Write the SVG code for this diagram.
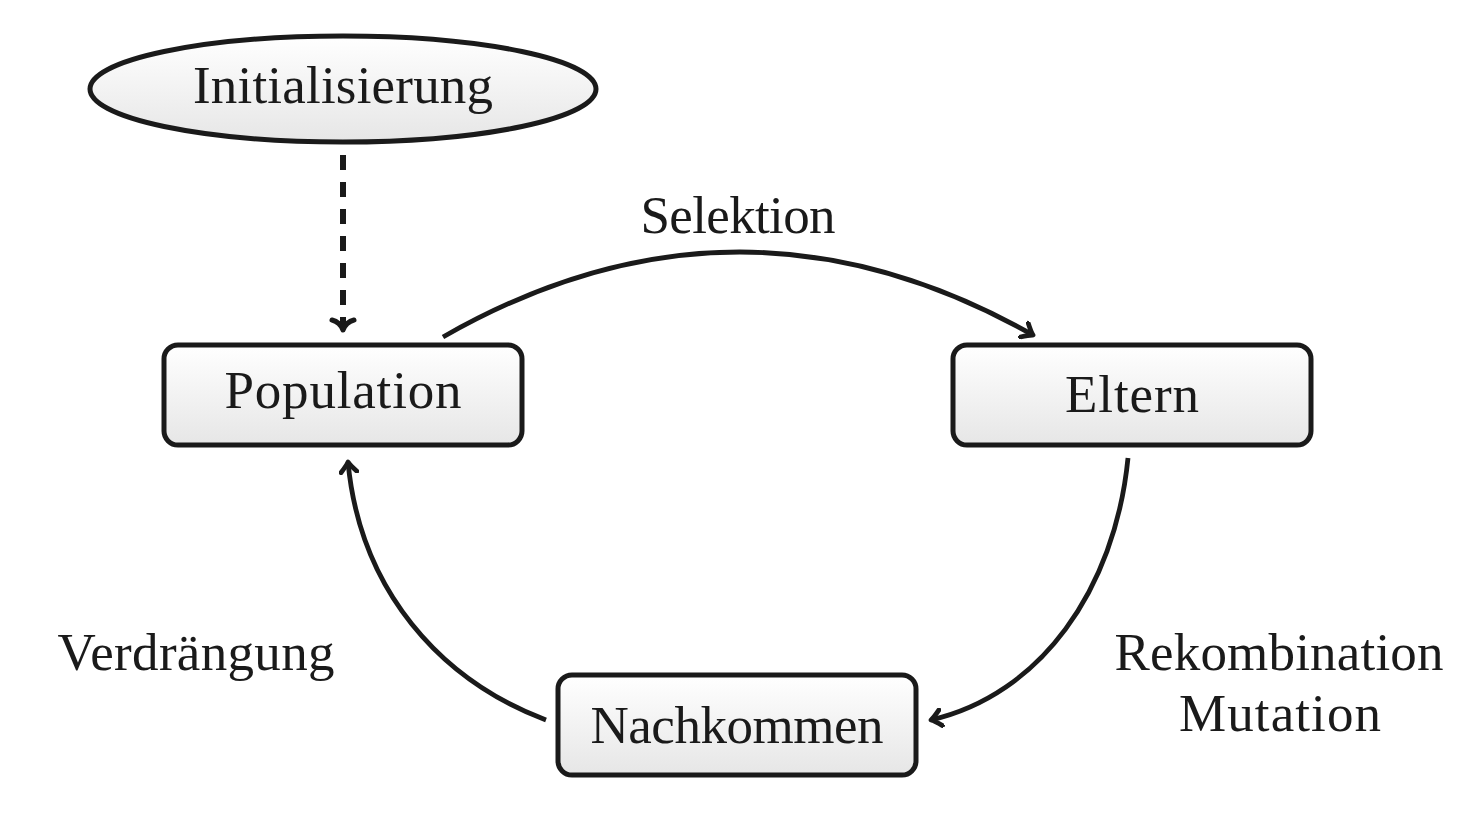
<svg xmlns="http://www.w3.org/2000/svg" width="1469" height="814" viewBox="0 0 1469 814">
<style>
.node{stroke:#1a1a1a;stroke-width:5;fill:url(#g)}
.lbl{font-family:"Liberation Serif","DejaVu Serif",serif;font-size:53px;fill:#1a1a1a;text-anchor:middle}
.edge{fill:none;stroke:#1a1a1a;stroke-width:4.8;marker-end:url(#arr)}
</style>
<defs>
<linearGradient id="g" x1="0" y1="0" x2="0" y2="1">
<stop offset="0" stop-color="#ffffff"/>
<stop offset="1" stop-color="#e6e6e6"/>
</linearGradient>
<marker id="arr" viewBox="-12 -10 16 20" markerWidth="16" markerHeight="20" refX="0" refY="0" orient="auto" markerUnits="userSpaceOnUse">
<path d="M-10,-8 Q-3,-1.5 0,0 Q-3,1.5 -10,8" fill="none" stroke="#1a1a1a" stroke-width="4.8" stroke-linecap="round" stroke-linejoin="round"/>
</marker>
</defs>
<g id="connectors">
<path d="M343,155 L343,328" fill="none" stroke="#1a1a1a" stroke-width="6" stroke-dasharray="15,12" />
<path d="M332,320 Q340,322 343,330 Q346,322 354,320" fill="none" stroke="#1a1a1a" stroke-width="5" stroke-linecap="round" stroke-linejoin="round"/>
<path class="edge" d="M443,337 Q738,168 1033,335"/>
<path class="edge" d="M1128,458 C1115,590 1040,695 931,720"/>
<path class="edge" d="M546,720 C440,680 360,590 348,462"/>
</g>
<g id="initialisierung">
<ellipse class="node" cx="343" cy="89" rx="253" ry="53"/>
<text class="lbl" x="343" y="103" textLength="300" lengthAdjust="spacing">Initialisierung</text>
</g>
<g id="population">
<rect class="node" x="164" y="345" width="358" height="100" rx="14"/>
<text class="lbl" x="343" y="408" textLength="237" lengthAdjust="spacing">Population</text>
</g>
<g id="eltern">
<rect class="node" x="953" y="345" width="358" height="100" rx="14"/>
<text class="lbl" x="1132" y="412" textLength="134" lengthAdjust="spacing">Eltern</text>
</g>
<g id="nachkommen">
<rect class="node" x="558" y="675" width="358" height="100" rx="14"/>
<text class="lbl" x="737" y="743" textLength="293" lengthAdjust="spacing">Nachkommen</text>
</g>
<g id="labels">
<text class="lbl" x="738" y="233" textLength="195" lengthAdjust="spacing">Selektion</text>
<text class="lbl" x="196" y="670" textLength="277" lengthAdjust="spacing">Verdrängung</text>
<text class="lbl" x="1279" y="670" textLength="329" lengthAdjust="spacing">Rekombination</text>
<text class="lbl" x="1280" y="731" textLength="202" lengthAdjust="spacing">Mutation</text>
</g>
</svg>
